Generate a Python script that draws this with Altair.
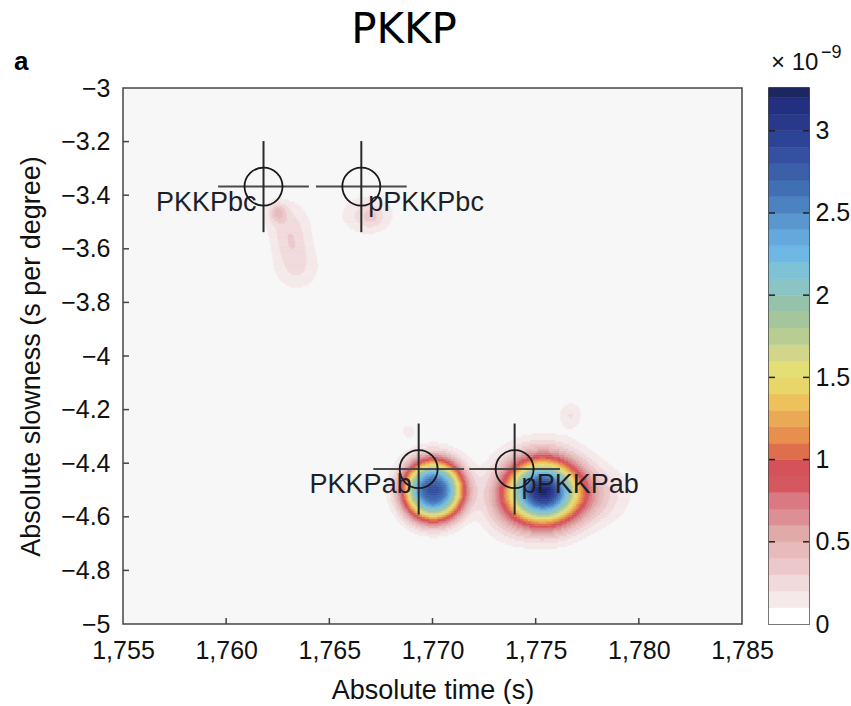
import numpy as np
import pandas as pd
import altair as alt

# ---- energy peaks in the time-slowness plane (energy in units of 1e-9) ----
peak_time     = [1770.05, 1775.35, 1777.80, 1773.40, 1776.70, 1768.85,
                 1762.50, 1762.98, 1763.42, 1763.20, 1766.85, 1767.05]
peak_slowness = [-4.500, -4.505, -4.52, -4.57, -4.22, -4.28,
                 -3.463, -3.50, -3.67, -3.58, -3.474, -3.48]
peak_energy   = [2.85, 3.20, 0.28, 0.15, 0.20, 0.15,
                 0.32, 0.21, 0.21, 0.16, 0.24, 0.12]
peak_width_t  = [1.10, 1.20, 1.20, 0.80, 0.40, 0.28,
                 0.30, 0.75, 0.80, 0.60, 0.90, 0.35]
peak_width_s  = [0.085, 0.082, 0.070, 0.080, 0.035, 0.022,
                 0.025, 0.060, 0.060, 0.050, 0.050, 0.025]
peak_shape    = [2.6, 2, 2, 2, 2, 2, 2, 2, 2, 2, 2, 2]

# ---- predicted phase arrivals ----
phase_name     = ["PKKPbc", "pPKKPbc", "PKKPab", "pPKKPab"]
phase_time     = [1761.81, 1766.55, 1769.33, 1773.98]
phase_slowness = [-3.368, -3.368, -4.422, -4.422]

# ---- axes / colour bar ----
time_ticks = [1755, 1760, 1765, 1770, 1775, 1780, 1785]
slow_ticks = [-5, -4.8, -4.6, -4.4, -4.2, -4, -3.8, -3.6, -3.4, -3.2, -3]
cbar_ticks = [0, 0.5, 1, 1.5, 2, 2.5, 3]
cbar_max = 3.26
level_step = 0.1

band_colors = [
    "#ffffff", "#f5e9ea", "#f0dadc", "#ecc8ca", "#e7bbbb", "#dfaaa7",
    "#dc8f95", "#d97a83", "#d4585f", "#d6525a", "#de6e4c", "#e78f4d",
    "#eaa955", "#edc15c", "#e9d66a", "#e3df76", "#d2d68b", "#b8cd92",
    "#a5c69c", "#96c2aa", "#8ac4c4", "#7ec2d6", "#6fb8e5", "#64a8dc",
    "#5a97cf", "#4b82c0", "#416fb4", "#3b5fa9", "#3550a0", "#2d4396",
    "#28398c", "#233080", "#1c2660",
]
n_levels = len(band_colors)

# ---- energy field on a regular grid, banded like a filled contour plot ----
dt, ds = 0.05, 0.008
t_c = 1755 + dt / 2 + dt * np.arange(int(round(30 / dt)))
s_c = -5 + ds / 2 + ds * np.arange(int(round(2 / ds)))
T, S = np.meshgrid(t_c, s_c)
E = np.zeros_like(T)
for t0, s0, a, wt, ws, p in zip(peak_time, peak_slowness, peak_energy,
                                peak_width_t, peak_width_s, peak_shape):
    d = np.sqrt(((T - t0) / wt) ** 2 + ((S - s0) / ws) ** 2)
    E += a * np.exp(-0.5 * d ** p)
lev = np.clip(np.floor(E / level_step).astype(int), 0, n_levels - 1)

# merge horizontal runs of equal level into single cells
cells = []
n = len(t_c)
for i in range(len(s_c)):
    row = lev[i]
    j = 0
    while j < n:
        k = j
        while k + 1 < n and row[k + 1] == row[j]:
            k += 1
        if row[j] >= 1:
            cells.append({"t0": t_c[j] - dt / 2, "t1": t_c[k] + dt / 2,
                          "s0": s_c[i] - ds / 2, "s1": s_c[i] + ds / 2,
                          "level": int(row[j])})
        j = k + 1
heat_df = pd.DataFrame(cells)

W, H = 619, 536
CB_W = 40
FONT = "Liberation Sans"

color_scale = alt.Scale(domain=list(range(n_levels)), range=band_colors)
x_scale = alt.Scale(domain=[1755, 1785], nice=False, zero=False)
y_scale = alt.Scale(domain=[-5, -3], nice=False, zero=False)

heat = alt.Chart(heat_df).mark_rect(strokeWidth=0.5).encode(
    x=alt.X("t0:Q", scale=x_scale,
            axis=alt.Axis(values=time_ticks, format=",d", ticks=False, tickSize=0,
                          domain=False, grid=False, labelFontSize=25,
                          labelFlush=False, labelPadding=14, labelColor="#111",
                          title="Absolute time (s)", titleFontSize=27,
                          titleFontWeight="normal", titlePadding=14,
                          titleColor="#111")),
    x2="t1:Q",
    y=alt.Y("s0:Q", scale=y_scale,
            axis=alt.Axis(values=slow_ticks, format="~g", ticks=False, tickSize=0,
                          domain=False, grid=False, labelFontSize=25,
                          labelFlush=False, labelPadding=13, labelColor="#111",
                          title="Absolute slowness (s per degree)", titleFontSize=27,
                          titleFontWeight="normal", titlePadding=15,
                          titleColor="#111")),
    y2="s1:Q",
    color=alt.Color("level:O", scale=color_scale, legend=None),
    stroke=alt.Stroke("level:O", scale=color_scale, legend=None),
)

# inward tick marks on the frame
bottom_ticks = alt.Chart(pd.DataFrame({"t": time_ticks[1:-1]})).mark_rule(
    color="#444", strokeWidth=1.5).encode(
    x=alt.X("t:Q", scale=x_scale), y=alt.value(H), y2=alt.value(H - 6))
left_ticks = alt.Chart(pd.DataFrame({"s": slow_ticks[1:-1]})).mark_rule(
    color="#444", strokeWidth=1.5).encode(
    y=alt.Y("s:Q", scale=y_scale), x=alt.value(0), x2=alt.value(6))

# phase markers: crosshair + circle + name
arm_t, arm_s = 2.2, 0.17
ph = pd.DataFrame({"name": phase_name, "t": phase_time, "s": phase_slowness})
ph["tl"], ph["tr"] = ph["t"] - arm_t, ph["t"] + arm_t
ph["sb"], ph["st"] = ph["s"] - arm_s, ph["s"] + arm_s
ph["depth"] = ph["name"].str.startswith("p")

h_arm = alt.Chart(ph).mark_rule(color="#4a4a4a", strokeWidth=2).encode(
    x=alt.X("tl:Q", scale=x_scale), x2="tr:Q", y=alt.Y("s:Q", scale=y_scale))
v_arm = alt.Chart(ph).mark_rule(color="#2a2a2a", strokeWidth=2).encode(
    x=alt.X("t:Q", scale=x_scale), y=alt.Y("sb:Q", scale=y_scale), y2="st:Q")
rings = alt.Chart(ph).mark_point(shape="circle", size=1444, filled=False,
                                 color="#1a1a1a", strokeWidth=1.8, opacity=1).encode(
    x=alt.X("t:Q", scale=x_scale), y=alt.Y("s:Q", scale=y_scale))
names_main = alt.Chart(ph).transform_filter("!datum.depth").mark_text(
    align="right", baseline="alphabetic", dx=-7, dy=24, fontSize=27,
    font=FONT, color="#1f1f2a").encode(
    x=alt.X("t:Q", scale=x_scale), y=alt.Y("s:Q", scale=y_scale), text="name:N")
names_depth = alt.Chart(ph).transform_filter("datum.depth").mark_text(
    align="left", baseline="alphabetic", dx=7, dy=24, fontSize=27,
    font=FONT, color="#1f1f2a").encode(
    x=alt.X("t:Q", scale=x_scale), y=alt.Y("s:Q", scale=y_scale), text="name:N")

title_txt = alt.Chart(pd.DataFrame({"txt": ["PKKP"]})).mark_text(
    align="center", baseline="alphabetic", fontSize=42, font="DejaVu Sans",
    color="#000").encode(text="txt:N", x=alt.value(281), y=alt.value(-45))
panel_txt = alt.Chart(pd.DataFrame({"txt": ["a"]})).mark_text(
    align="left", baseline="alphabetic", fontSize=26, fontWeight="bold", font=FONT,
    color="#000").encode(text="txt:N", x=alt.value(-109), y=alt.value(-18))

main = alt.layer(
    heat, bottom_ticks, left_ticks, h_arm, v_arm, rings, names_main, names_depth,
    title_txt, panel_txt,
).properties(
    width=W, height=H,
    view=alt.ViewBackground(fill="#f7f7f7", stroke="#454545", strokeWidth=1.5),
)

# ---- colour bar ----
band_lo = [level_step * k for k in range(n_levels)]
band_hi = [min(level_step * (k + 1), cbar_max) for k in range(n_levels)]
cb_df = pd.DataFrame({"lo": band_lo, "hi": band_hi, "level": list(range(n_levels))})
cb_scale = alt.Scale(domain=[0, cbar_max], nice=False, zero=True)

cb_rects = alt.Chart(cb_df).mark_rect(strokeWidth=0.5).encode(
    x=alt.value(0), x2=alt.value(CB_W),
    y=alt.Y("lo:Q", scale=cb_scale,
            axis=alt.Axis(orient="right", values=cbar_ticks, format="~g",
                          ticks=False, tickSize=0, domain=False, grid=False,
                          labelFontSize=25, labelPadding=6, labelColor="#111",
                          labelFlush=False, title=None)),
    y2="hi:Q",
    color=alt.Color("level:O", scale=color_scale, legend=None),
    stroke=alt.Stroke("level:O", scale=color_scale, legend=None),
)
cb_tick_df = pd.DataFrame({"v": cbar_ticks[1:]})
cb_ticks_l = alt.Chart(cb_tick_df).mark_rule(color="#222", strokeWidth=1.5).encode(
    y=alt.Y("v:Q", scale=cb_scale), x=alt.value(0), x2=alt.value(6))
cb_ticks_r = alt.Chart(cb_tick_df).mark_rule(color="#222", strokeWidth=1.5).encode(
    y=alt.Y("v:Q", scale=cb_scale), x=alt.value(CB_W - 6), x2=alt.value(CB_W))
cb_exp = alt.Chart(pd.DataFrame({"txt": ["\u00d7 10"]})).mark_text(
    align="left", baseline="alphabetic", fontSize=24, font=FONT, color="#111").encode(
    text="txt:N", x=alt.value(2), y=alt.value(-18))
cb_exp2 = alt.Chart(pd.DataFrame({"txt": ["\u22129"]})).mark_text(
    align="left", baseline="alphabetic", fontSize=18, font=FONT, color="#111").encode(
    text="txt:N", x=alt.value(52), y=alt.value(-30))

cbar = alt.layer(cb_rects, cb_ticks_l, cb_ticks_r, cb_exp, cb_exp2).properties(
    width=CB_W, height=H,
    view=alt.ViewBackground(fill="#ffffff", stroke="#111", strokeWidth=1.5),
)

chart = alt.hconcat(main, cbar, spacing=27, bounds="flush").resolve_scale(
    color="independent", stroke="independent", y="independent", x="independent"
).properties(
    padding={"left": 13, "top": 8, "right": 0, "bottom": 0},
    background="#ffffff",
).configure_axis(
    labelFont=FONT, titleFont=FONT,
).configure_text(font=FONT)

chart.save("out.html", embed_options={"renderer": "svg", "actions": False})
